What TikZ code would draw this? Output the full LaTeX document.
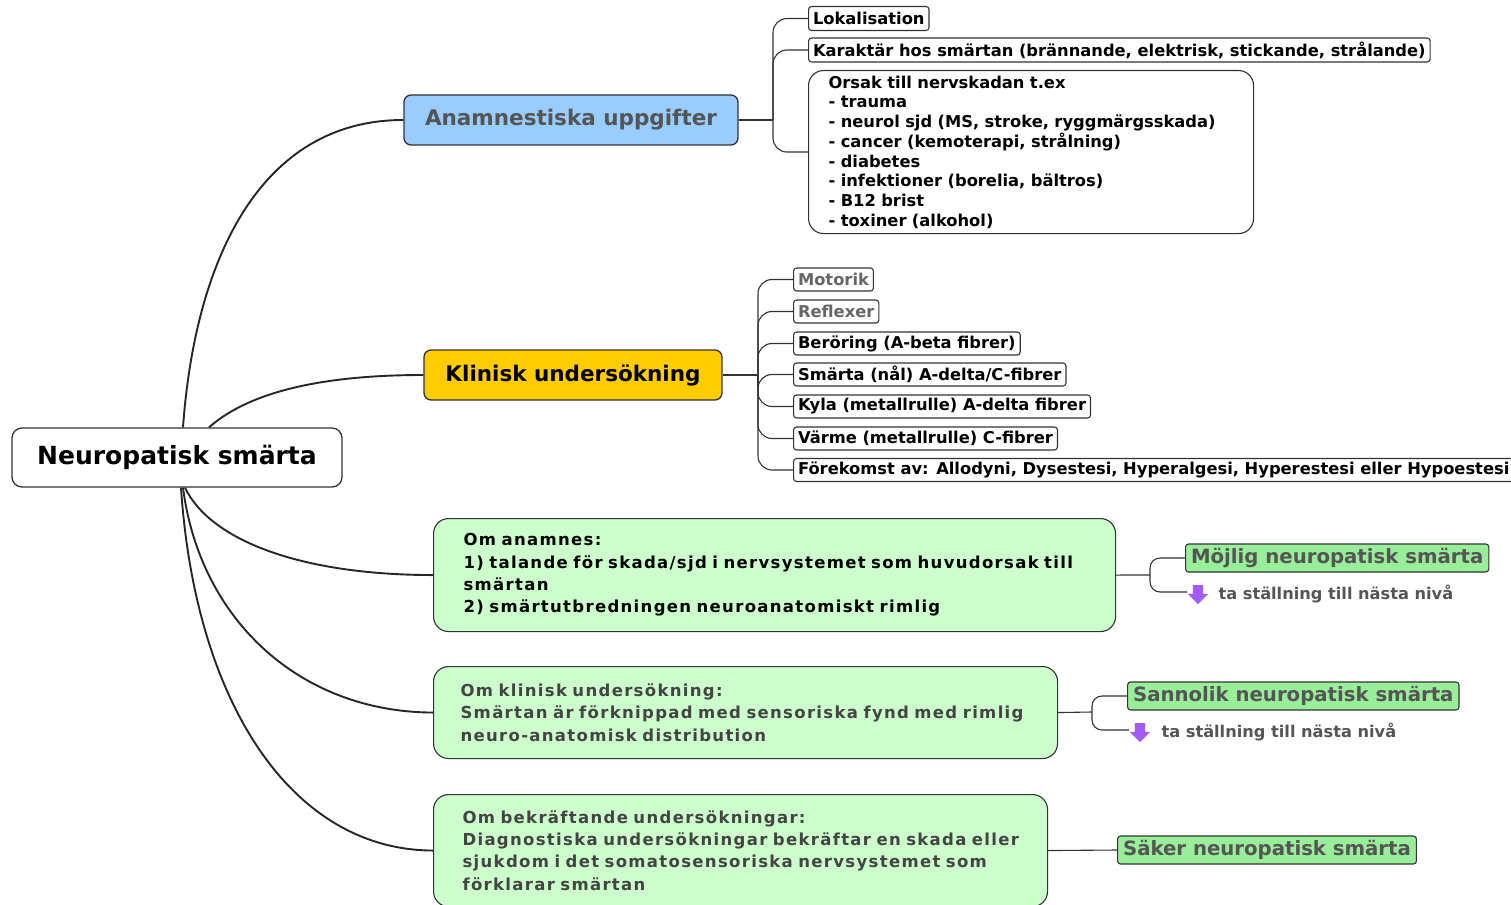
\documentclass[tikz,border=0pt]{standalone}
\usepackage{fontspec}
\setmainfont{DejaVu Sans}
\newfontfamily\spaced{DejaVu Sans}[LetterSpace=8]
\usetikzlibrary{shapes.arrows}

\definecolor{anamblue}{HTML}{99CCFF}
\definecolor{klingold}{HTML}{FFCC00}
\definecolor{paleg}{HTML}{CCFFCC}
\definecolor{resg}{HTML}{99EE99}
\definecolor{edge}{HTML}{333333}
\definecolor{greytext}{HTML}{555555}
\definecolor{darktext}{HTML}{444444}
\definecolor{arrowpurple}{HTML}{A35BF5}

\tikzset{
  mainbox/.style={draw=edge, line width=1.3pt, rounded corners=7pt, minimum height=50pt,
    font=\fontsize{21.5}{25}\selectfont\bfseries},
  leaf/.style={draw=edge, line width=1.1pt, rounded corners=3pt, fill=white, anchor=west,
    inner xsep=4.5pt, inner ysep=0pt, minimum height=24pt, font=\fontsize{16.3}{19}\selectfont\bfseries},
  greenbox/.style={draw=edge, line width=1.1pt, rounded corners=15pt, fill=paleg, anchor=north west,
    align=left, font=\spaced\fontsize{16.5}{22.3}\selectfont\bfseries},
  resbox/.style={draw=edge, line width=1.1pt, fill=resg, rounded corners=3pt, anchor=west, text=greytext,
    inner xsep=5.5pt, inner ysep=0pt, minimum height=28pt, font=\fontsize{19.7}{22}\selectfont\bfseries},
  note/.style={anchor=west, text=greytext, font=\fontsize{16.2}{19}\selectfont\bfseries},
  downarrow/.style={single arrow, shape border rotate=270, fill=arrowpurple, draw=none,
    inner sep=5pt, minimum height=19pt, single arrow head extend=5pt},
  branch/.style={line width=1.9pt, black!85},
  twig/.style={line width=1.1pt, edge, rounded corners=14pt}
}

\begin{document}
\begin{tikzpicture}[x=1pt, y=-1pt]
\useasboundingbox (0,0) rectangle (1511,904);

% Central topic
\node[mainbox, fill=white, minimum width=330pt, minimum height=59pt, rounded corners=10pt,
  font=\fontsize{25}{30}\selectfont\bfseries] (root) at (177,457.5) {Neuropatisk smärta};

% Main branches
\node[mainbox, fill=anamblue, text=greytext, minimum width=334pt] (anam) at (571,120) {Anamnestiska uppgifter};
\node[mainbox, fill=klingold, minimum width=298pt] (klin) at (573,375) {Klinisk undersökning};

% Conclusion boxes
\node[greenbox, minimum height=113pt, inner xsep=30pt, text width=622pt] (g1) at (433,518)
  {Om anamnes:\\1) talande för skada/sjd i nervsystemet som huvudorsak till\\smärtan\\2) smärtutbredningen neuroanatomiskt rimlig};
\node[greenbox, text=darktext, minimum height=92pt, inner xsep=27pt, text width=570pt] (g2) at (433,666)
  {Om klinisk undersökning:\\Smärtan är förknippad med sensoriska fynd med rimlig\\neuro-anatomisk distribution};
\node[greenbox, text=darktext, minimum height=112pt, inner xsep=29pt, text width=556pt] (g3) at (433,794)
  {Om bekräftande undersökningar:\\Diagnostiska undersökningar bekräftar en skada eller\\sjukdom i det somatosensoriska nervsystemet som\\förklarar smärtan};

% Curves out of the central topic
\draw[branch] ([xshift=6pt]root.north) .. controls (195,260) and (260,120) .. (anam.west);
\draw[branch] ([xshift=32pt]root.north) .. controls (240,400) and (300,375) .. (klin.west);
\draw[branch] ([xshift=8pt]root.south) .. controls (210,540) and (300,575) .. (g1.west);
\draw[branch] ([xshift=6pt]root.south) .. controls (200,620) and (300,712) .. (g2.west);
\draw[branch] ([xshift=4pt]root.south) .. controls (195,700) and (290,850) .. (g3.west);

% History items
\node[leaf] (lok) at (808,18.5) {Lokalisation};
\node[leaf] (kar) at (808,50) {Karaktär hos smärtan (brännande, elektrisk, stickande, strålande)};
\node[leaf, anchor=north west, rounded corners=15pt, minimum height=163pt, inner xsep=20pt,
  text width=405pt, align=left, font=\fontsize{16.3}{19.7}\selectfont\bfseries] (orsak) at (808,70)
  {Orsak till nervskadan t.ex\\- trauma\\- neurol sjd (MS, stroke, ryggmärgsskada)\\- cancer (kemoterapi, strålning)\\- diabetes\\- infektioner (borelia, bältros)\\- B12 brist\\- toxiner (alkohol)};

\coordinate (fa) at (773,120);
\draw[line width=1.1pt, edge] (anam.east) -- (fa);
\foreach \k in {lok,kar,orsak}
  \draw[twig] (fa) |- (\k.west);

% Examination items
\node[leaf, minimum height=23pt, text=black!60] (mot) at (793,279.5) {Motorik};
\node[leaf, minimum height=23pt, text=black!60] (ref) at (793,311.5) {Reflexer};
\node[leaf, minimum height=23pt] (ber) at (793,343.5) {Beröring (A-beta fibrer)};
\node[leaf, minimum height=23pt] (sma) at (793,374.5) {Smärta (nål) A-delta/C-fibrer};
\node[leaf, minimum height=23pt] (kyl) at (793,406.5) {Kyla (metallrulle) A-delta fibrer};
\node[leaf, minimum height=23pt] (var) at (793,438.5) {Värme (metallrulle) C-fibrer};
\node[leaf, minimum height=23pt] (fore) at (793,470) {Förekomst av: Allodyni, Dysestesi, Hyperalgesi, Hyperestesi eller Hypoestesi};

\coordinate (fk) at (758,375);
\draw[line width=1.1pt, edge] (klin.east) -- (fk);
\foreach \k in {mot,ref,ber,sma,kyl,var,fore}
  \draw[twig] (fk) |- (\k.west);

% Outcomes
\node[resbox] (moj) at (1185,558) {Möjlig neuropatisk smärta};
\node[downarrow] (arr1) at (1198,592) {};
\coordinate (t1) at (1187,592);
\node[note] (next1) at (1215,594) {ta ställning till nästa nivå};
\coordinate (fg1) at (1150,575);
\draw[line width=1.1pt, edge] (g1.east) -- (fg1);
\draw[twig, rounded corners=10pt] (fg1) |- (moj.west);
\draw[twig, rounded corners=10pt] (fg1) |- (t1);

\node[resbox] (san) at (1127,696) {Sannolik neuropatisk smärta};
\node[downarrow] (arr2) at (1140,730) {};
\coordinate (t2) at (1129,730);
\node[note] (next2) at (1158,732) {ta ställning till nästa nivå};
\coordinate (fg2) at (1092,712);
\draw[line width=1.1pt, edge] (g2.east) -- (fg2);
\draw[twig, rounded corners=10pt] (fg2) |- (san.west);
\draw[twig, rounded corners=10pt] (fg2) |- (t2);

\node[resbox] (sak) at (1117,850) {Säker neuropatisk smärta};
\draw[line width=1.1pt, edge] (g3.east) -- (sak.west);

\end{tikzpicture}
\end{document}
